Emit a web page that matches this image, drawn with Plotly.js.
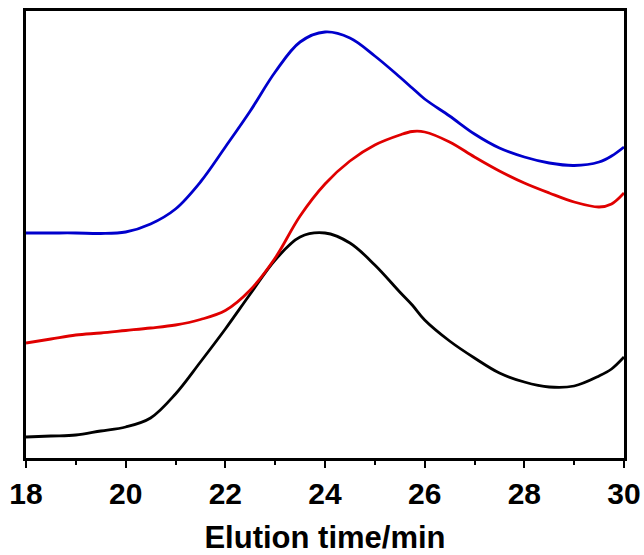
<!DOCTYPE html>
<html>
<head>
<meta charset="utf-8">
<script src="https://cdn.plot.ly/plotly-3.0.1.min.js"></script>
<style>html,body{margin:0;padding:0;background:#fff;}#chart{width:644px;height:555px;}</style>
</head>
<body>
<div id="chart"></div>
<script>
// Elution time (min)
const elutionTime = [18,18.5,19,19.5,20,20.5,21,21.5,22,22.5,23,23.5,24,24.5,25,25.5,25.75,26,26.5,27,27.5,28,28.5,29,29.5,29.75,30];
// Detector signal (arbitrary units, offset traces)
const blueSignal  = [225,225,225,224.5,226,234,249,276,311,347,386,416,426,420,402,381,370,359,342,324,310,301,295,292.5,296,302,311];
const redSignal   = [115,119,123,125,127.5,130,133,138.5,147.5,168,200,242,274,297,313,323,326.5,326,316,301,287,275,265,256,251,254,265];
const blackSignal = [21,22,23,27,31,40,64,96,129,164,198,221,225,215,193,166,153,138,117,100,85,76,71,72,82,89,101];
const xTickVals = [18,20,22,24,26,28,30];
const xTickText = ['18','20','22','24','26','28','30'];
const xMinorVals = [19,21,23,25,27,29];

const mk = (y, color) => ({
  x: elutionTime, y: y, type: 'scatter', mode: 'lines',
  line: {color: color, width: 2.8, shape: 'spline', smoothing: 1},
  hoverinfo: 'skip', showlegend: false
});

const data = [mk(blackSignal, '#000000'), mk(redSignal, '#e00000'), mk(blueSignal, '#0000cc')];

const layout = {
  width: 644, height: 555,
  margin: {l: 26, r: 20, t: 11, b: 97, pad: 0},
  paper_bgcolor: '#fff', plot_bgcolor: '#fff',
  showlegend: false,
  xaxis: {
    range: [18, 30], showgrid: false, zeroline: false,
    showline: true, mirror: true, linecolor: '#000', linewidth: 3,
    ticks: 'outside', ticklen: 7, tickwidth: 2, tickcolor: '#000',
    tickvals: xTickVals, ticktext: xTickText,
    tickfont: {family: 'Liberation Sans, Arial, sans-serif', size: 30, color: '#000', weight: 'bold'},
    minor: {tickvals: xMinorVals, ticks: 'outside', ticklen: 4, tickwidth: 2, tickcolor: '#000'},
    title: {text: '<b>Elution time/min</b>', standoff: 20,
      font: {family: 'Liberation Sans, Arial, sans-serif', size: 31, color: '#000'}}
  },
  yaxis: {
    range: [0, 447], showgrid: false, zeroline: false,
    showline: true, mirror: true, linecolor: '#000', linewidth: 3,
    ticks: '', showticklabels: false
  }
};

Plotly.newPlot('chart', data, layout, {displayModeBar: false, staticPlot: true});
</script>
</body>
</html>
